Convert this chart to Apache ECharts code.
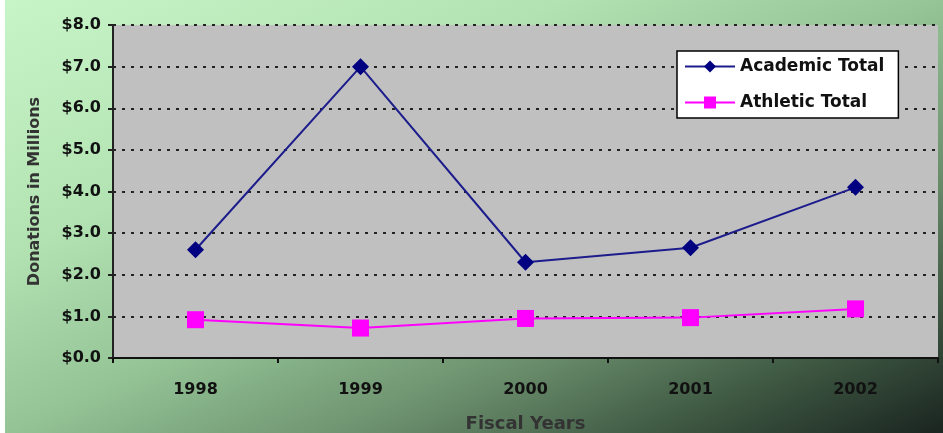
<!DOCTYPE html>
<html>
<head>
<meta charset="utf-8">
<script src="https://cdn.jsdelivr.net/npm/echarts@6/dist/echarts.min.js"></script>
<style>
  html, body { margin: 0; padding: 0; }
  #chart { width: 943px; height: 433px; }
</style>
</head>
<body>
<div id="chart"></div>
<script>
// fiscal years and donations (millions of dollars)
var years = ["1998", "1999", "2000", "2001", "2002"];
var academicTotal = [2.6, 7.0, 2.3, 2.65, 4.1];
var athleticTotal = [0.92, 0.72, 0.95, 0.97, 1.18];

var myChart = echarts.init(document.getElementById("chart"));
var font = "DejaVu Sans";
var option = {
  animation: false,
  // light green top-left fading to dark bottom-right
  backgroundColor: {
    type: "linear", x: 0, y: 0, x2: 328, y2: 715, global: true,
    colorStops: [
      { offset: 0, color: "#c8f5c8" },
      { offset: 0.3, color: "#b2e2b2" },
      { offset: 0.5, color: "#95c597" },
      { offset: 0.7, color: "#6a8e6c" },
      { offset: 0.85, color: "#3e5842" },
      { offset: 1, color: "#1a2420" }
    ]
  },
  graphic: [
    { type: "rect", left: 0, top: 0, shape: { width: 5, height: 433 }, style: { fill: "#ffffff" }, z: -1 }
  ],
  grid: {
    left: 113, right: 5, top: 25, bottom: 75,
    outerBoundsMode: "none",
    show: true, backgroundColor: "#c0c0c0", borderWidth: 0
  },
  legend: {
    orient: "vertical",
    left: 677, top: 51,
    padding: [7, 14, 7, 7],
    itemWidth: 50, itemHeight: 15, itemGap: 19,
    backgroundColor: "#ffffff",
    borderColor: "#000000", borderWidth: 1.5,
    borderRadius: 0,
    textStyle: { fontFamily: font, fontWeight: "bold", fontSize: 17, color: "#111" },
    data: ["Academic Total", "Athletic Total"]
  },
  xAxis: {
    type: "category",
    data: years,
    name: "Fiscal Years",
    nameLocation: "middle",
    nameGap: 57,
    nameTextStyle: { fontFamily: font, fontWeight: "bold", fontSize: 18, color: "#333" },
    axisLine: { lineStyle: { color: "#111", width: 2 } },
    axisTick: { show: true, length: 5, lineStyle: { color: "#111", width: 2 } },
    axisLabel: { margin: 24, fontFamily: font, fontWeight: "bold", fontSize: 16, color: "#111" }
  },
  yAxis: {
    type: "value",
    min: 0, max: 8, interval: 1,
    name: "Donations in Millions",
    nameLocation: "middle",
    nameGap: 70,
    nameTextStyle: { fontFamily: font, fontWeight: "bold", fontSize: 16, color: "#333" },
    axisLine: { show: true, lineStyle: { color: "#222", width: 2 } },
    axisTick: { show: true, length: 5, lineStyle: { color: "#222", width: 2 } },
    axisLabel: {
      margin: 12, fontFamily: font, fontWeight: "bold", fontSize: 16, color: "#111",
      formatter: function (v) { return "$" + v.toFixed(1); }
    },
    splitLine: { lineStyle: { color: "#222", width: 2, type: [3, 6] } }
  },
  series: [
    {
      name: "Academic Total",
      type: "line",
      data: academicTotal,
      symbol: "diamond",
      symbolSize: 17,
      itemStyle: { color: "#000080" },
      lineStyle: { color: "#1c1c8c", width: 2 }
    },
    {
      name: "Athletic Total",
      type: "line",
      data: athleticTotal,
      symbol: "rect",
      symbolSize: 17,
      itemStyle: { color: "#ff00ff" },
      lineStyle: { color: "#ff00ff", width: 2 }
    }
  ]
};
myChart.setOption(option);
</script>
</body>
</html>
